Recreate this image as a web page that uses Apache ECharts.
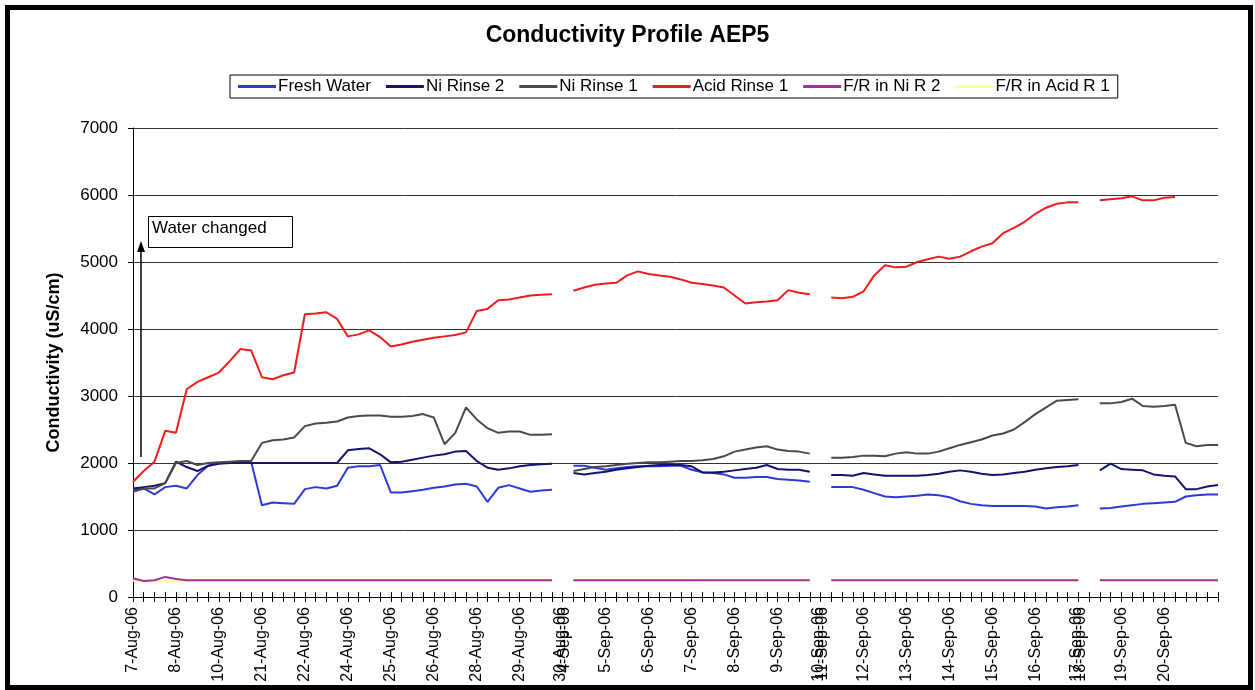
<!DOCTYPE html>
<html lang="en">
<head>
<meta charset="utf-8">
<title>Conductivity Profile AEP5</title>
<script src="https://cdn.jsdelivr.net/npm/echarts/dist/echarts.min.js"></script>
<style>
  html, body { margin: 0; padding: 0; background: #fff; }
  #main { width: 1255px; height: 690px; }
</style>
</head>
<body>
<div id="main"></div>
<script type="text/javascript">
// one label every 4 readings; gaps in the data fall on the double labels
var tickLabels = ['7-Aug-06', '8-Aug-06', '10-Aug-06', '21-Aug-06', '22-Aug-06', '24-Aug-06', '25-Aug-06',
    '26-Aug-06', '28-Aug-06', '29-Aug-06', '30-Aug-06\n4-Sep-06', '5-Sep-06', '6-Sep-06', '7-Sep-06',
    '8-Sep-06', '9-Sep-06', '10-Sep-06\n11-Sep-06', '12-Sep-06', '13-Sep-06', '14-Sep-06', '15-Sep-06',
    '16-Sep-06', '17-Sep-06\n18-Sep-06', '19-Sep-06', '20-Sep-06'];

var freshWater = [1610, 1620, 1530, 1640, 1660, 1620, 1820, 1960, 2000, 2010,
    2020, 2020, 1370, 1410, 1400, 1390, 1610, 1640, 1620, 1660,
    1930, 1950, 1950, 1970, 1560, 1560, 1580, 1600, 1630, 1650,
    1680, 1690, 1650, 1420, 1630, 1670, 1620, 1570, 1590, 1600,
    null, 1960, 1960, 1930, 1900, 1920, 1940, 1950, 1950, 1950,
    1960, 1960, 1900, 1860, 1850, 1830, 1780, 1780, 1790, 1790,
    1760, 1750, 1740, 1720, null, 1640, 1640, 1640, 1600, 1550,
    1500, 1490, 1500, 1510, 1530, 1520, 1490, 1430, 1390, 1370,
    1360, 1360, 1360, 1360, 1350, 1320, 1340, 1350, 1370, null,
    1320, 1330, 1350, 1370, 1390, 1400, 1410, 1420, 1500, 1520,
    1530, 1530];

var niRinse2 = [1620, 1640, 1660, 1700, 2020, 1940, 1880, 1960, 1990, 2000,
    2000, 2000, 2000, 2000, 2000, 2000, 2000, 2000, 2000, 2000,
    2190, 2210, 2220, 2130, 2010, 2020, 2050, 2080, 2110, 2130,
    2170, 2180, 2030, 1930, 1900, 1920, 1950, 1970, 1980, 1990,
    null, 1850, 1830, 1850, 1870, 1900, 1920, 1940, 1960, 1970,
    1970, 1970, 1950, 1860, 1860, 1870, 1890, 1910, 1930, 1970,
    1910, 1900, 1900, 1870, null, 1820, 1820, 1810, 1850, 1830,
    1810, 1810, 1810, 1810, 1820, 1840, 1870, 1890, 1870, 1840,
    1820, 1830, 1850, 1870, 1900, 1920, 1940, 1950, 1970, null,
    1890, 1990, 1910, 1900, 1890, 1830, 1810, 1800, 1610, 1610,
    1650, 1670];

var niRinse1 = [1570, 1620, 1620, 1700, 2000, 2030, 1970, 2000, 2010, 2020,
    2030, 2030, 2300, 2340, 2350, 2380, 2550, 2590, 2600, 2620,
    2680, 2700, 2710, 2710, 2690, 2690, 2700, 2730, 2680, 2280,
    2450, 2830, 2650, 2520, 2450, 2470, 2470, 2420, 2420, 2430,
    null, 1880, 1910, 1940, 1950, 1970, 1990, 2000, 2010, 2010,
    2020, 2030, 2030, 2040, 2060, 2100, 2170, 2200, 2230, 2250,
    2200, 2180, 2170, 2140, null, 2080, 2080, 2090, 2110, 2110,
    2100, 2140, 2160, 2140, 2140, 2170, 2220, 2270, 2310, 2350,
    2410, 2440, 2500, 2610, 2730, 2830, 2930, 2940, 2950, null,
    2890, 2890, 2910, 2960, 2850, 2840, 2850, 2870, 2300, 2250,
    2270, 2270];

var acidRinse1 = [1720, 1880, 2020, 2480, 2450, 3100, 3210, 3280, 3350, 3520,
    3700, 3680, 3280, 3250, 3310, 3350, 4220, 4230, 4250, 4150,
    3890, 3920, 3980, 3880, 3740, 3770, 3810, 3840, 3870, 3890,
    3910, 3950, 4270, 4300, 4430, 4440, 4470, 4500, 4510, 4520,
    null, 4570, 4620, 4660, 4680, 4690, 4800, 4860, 4820, 4800,
    4780, 4740, 4690, 4670, 4650, 4620, 4500, 4380, 4400, 4410,
    4430, 4580, 4540, 4520, null, 4470, 4460, 4480, 4560, 4800,
    4950, 4920, 4930, 5000, 5040, 5080, 5050, 5080, 5160, 5230,
    5280, 5430, 5510, 5600, 5720, 5810, 5870, 5890, 5890, null,
    5920, 5935, 5950, 5980, 5920, 5920, 5960, 5970, null, null,
    null, null];

var frNiR2 = [280, 240, 250, 300, 270, 250, 250, 250, 250, 250,
    250, 250, 250, 250, 250, 250, 250, 250, 250, 250,
    250, 250, 250, 250, 250, 250, 250, 250, 250, 250,
    250, 250, 250, 250, 250, 250, 250, 250, 250, 250,
    null, 250, 250, 250, 250, 250, 250, 250, 250, 250,
    250, 250, 250, 250, 250, 250, 250, 250, 250, 250,
    250, 250, 250, 250, null, 250, 250, 250, 250, 250,
    250, 250, 250, 250, 250, 250, 250, 250, 250, 250,
    250, 250, 250, 250, 250, 250, 250, 250, 250, null,
    250, 250, 250, 250, 250, 250, 250, 250, 250, 250,
    250, 250];

var frAcidR1 = [245, 235, 235, 235, 235, 235, 235, 235, 235, 235,
    235, 235, 235, 235, 235, 235, 235, 235, 235, 235,
    235, 235, 235, 235, 235, 235, 235, 235, 235, 235,
    235, 235, 235, 235, 235, 235, 235, 235, 235, 235,
    null, 235, 235, 235, 235, 235, 235, 235, 235, 235,
    235, 235, 235, 250, 250, 250, 250, 250, 250, 250,
    250, 250, 250, 250, null, 250, 250, 250, 250, 250,
    250, 250, 250, 250, 250, 250, 250, 250, 250, 250,
    250, 250, 250, 250, 250, 250, 250, 250, 250, null,
    250, 250, 250, 250, 250, 250, 250, 250, 250, 250,
    250, 250];

var categories = [];
for (var i = 0; i < freshWater.length; i++) {
    categories.push(String(i));
}

var font = 'Liberation Sans, Arial, sans-serif';

function lineSeries(name, data, color, z) {
    return {
        name: name,
        type: 'line',
        data: data,
        symbol: 'none',
        connectNulls: false,
        z: z,
        lineStyle: { color: color, width: 2 },
        itemStyle: { color: color }
    };
}

var myChart = echarts.init(document.getElementById('main'));

option = {
    animation: false,
    backgroundColor: '#fff',
    textStyle: { fontFamily: font, color: '#000' },
    title: {
        text: 'Conductivity Profile AEP5',
        left: 'center',
        top: 19,
        textStyle: { fontFamily: font, fontSize: 23, fontWeight: 'bold', color: '#000' }
    },
    legend: {
        left: 230,
        top: 75,
        icon: 'rect',
        itemWidth: 38,
        itemHeight: 3,
        itemGap: 15,
        padding: [3, 8],
        borderColor: '#000',
        borderWidth: 1,
        textStyle: { fontFamily: font, fontSize: 17, color: '#000', padding: [0, 0, 0, -3] },
        data: ['Fresh Water', 'Ni Rinse 2', 'Ni Rinse 1', 'Acid Rinse 1', 'F/R in Ni R 2', 'F/R in Acid R 1']
    },
    grid: { left: 133, right: 37, top: 128, bottom: 93 },
    xAxis: [{
        type: 'category',
        data: categories,
        boundaryGap: false,
        axisLine: { lineStyle: { color: '#000', width: 1 } },
        axisTick: { interval: 0, length: 5, lineStyle: { color: '#000' } },
        axisLabel: {
            interval: 3,
            rotate: 90,
            margin: 10,
            fontFamily: font,
            fontSize: 16,
            lineHeight: 4,
            color: '#000',
            formatter: function (value, index) {
                return tickLabels[index / 4] || '';
            }
        },
        splitLine: { show: false }
    }, {
        // upper half of the cross tick marks
        type: 'category',
        data: categories,
        boundaryGap: false,
        position: 'bottom',
        axisLine: { show: false },
        axisTick: { inside: true, interval: 0, length: 5, lineStyle: { color: '#000' } },
        axisLabel: { show: false },
        splitLine: { show: false }
    }],
    yAxis: {
        type: 'value',
        min: 0,
        max: 7000,
        interval: 1000,
        name: 'Conductivity (uS/cm)',
        nameLocation: 'middle',
        nameGap: 70,
        nameTextStyle: { fontFamily: font, fontSize: 18, fontWeight: 'bold', color: '#000' },
        axisLine: { show: true, lineStyle: { color: '#000', width: 1 } },
        axisTick: { show: true, length: 5, lineStyle: { color: '#000' } },
        axisLabel: {
            margin: 15, fontFamily: font, fontSize: 17, color: '#000',
            formatter: function (v) { return String(v); }
        },
        splitLine: { show: true, lineStyle: { color: '#333', width: 1 } }
    },
    series: [
        lineSeries('Fresh Water', freshWater, '#2b3bd6', 2),
        lineSeries('Ni Rinse 2', niRinse2, '#141470', 3),
        lineSeries('Ni Rinse 1', niRinse1, '#4a4a4a', 4),
        lineSeries('Acid Rinse 1', acidRinse1, '#ee1c1c', 5),
        lineSeries('F/R in Ni R 2', frNiR2, '#a0309a', 7),
        lineSeries('F/R in Acid R 1', frAcidR1, '#ffff99', 6)
    ],
    graphic: [{
        type: 'rect',
        shape: { x: 7.5, y: 7.5, width: 1243, height: 680 },
        style: { fill: 'none', stroke: '#000', lineWidth: 5 },
        silent: true
    }, {
        type: 'line',
        shape: { x1: 141, y1: 457, x2: 141, y2: 250 },
        style: { stroke: '#000', lineWidth: 1.5 },
        z: 20
    }, {
        type: 'polygon',
        shape: { points: [[141, 241], [137, 252], [145, 252]] },
        style: { fill: '#000' },
        z: 20
    }, {
        type: 'rect',
        shape: { x: 148.5, y: 216.5, width: 144, height: 31 },
        style: { fill: '#fff', stroke: '#000', lineWidth: 1 },
        z: 20
    }, {
        type: 'text',
        left: 152,
        top: 220,
        style: { text: 'Water changed', font: '17px Liberation Sans, Arial, sans-serif', fill: '#000' },
        z: 21
    }]
};

myChart.setOption(option);
</script>
</body>
</html>
